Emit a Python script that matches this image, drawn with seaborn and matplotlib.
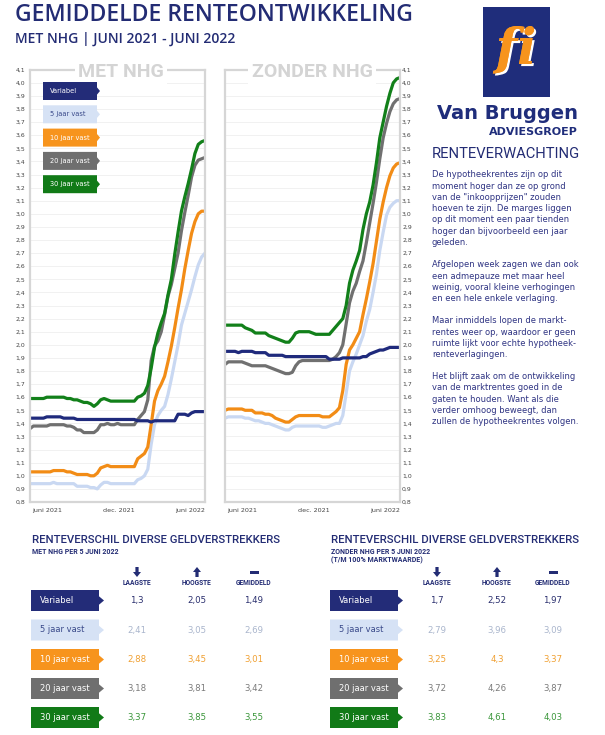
import numpy as np
import pandas as pd
import matplotlib
matplotlib.use('Agg')
import matplotlib.pyplot as plt
import matplotlib.patheffects as pe
import seaborn as sns
from matplotlib.patches import Polygon, Rectangle
from matplotlib.ticker import FuncFormatter, FixedLocator

# ---------------- DATA ----------------
series = ['Variabel', '5 jaar vast', '10 jaar vast', '20 jaar vast', '30 jaar vast']
weeks = list(range(53))  # weekly points, juni 2021 - juni 2022

met_variabel = [1.44, 1.44, 1.44, 1.44, 1.44, 1.45, 1.45, 1.45, 1.45, 1.45, 1.44, 1.44, 1.44, 1.44,
                1.43, 1.43, 1.43, 1.43, 1.43, 1.43, 1.43, 1.43, 1.43, 1.43, 1.43, 1.43, 1.43, 1.43,
                1.43, 1.43, 1.43, 1.43, 1.42, 1.42, 1.42, 1.42, 1.41, 1.42, 1.42, 1.42, 1.42, 1.42,
                1.42, 1.42, 1.47, 1.47, 1.47, 1.46, 1.48, 1.49, 1.49, 1.49, 1.49]
met_5 = [0.94, 0.94, 0.94, 0.94, 0.94, 0.94, 0.94, 0.95, 0.94, 0.94, 0.94, 0.94, 0.94, 0.94,
         0.92, 0.92, 0.92, 0.92, 0.91, 0.91, 0.90, 0.93, 0.95, 0.95, 0.94, 0.94, 0.94, 0.94,
         0.94, 0.94, 0.94, 0.94, 0.97, 0.98, 1.00, 1.05, 1.24, 1.39, 1.46, 1.50, 1.53, 1.62,
         1.74, 1.87, 2.00, 2.15, 2.24, 2.33, 2.42, 2.52, 2.61, 2.67, 2.70]
met_10 = [1.03, 1.03, 1.03, 1.03, 1.03, 1.03, 1.03, 1.04, 1.04, 1.04, 1.04, 1.03, 1.03, 1.02,
          1.01, 1.01, 1.01, 1.01, 1.00, 1.00, 1.02, 1.06, 1.07, 1.08, 1.07, 1.07, 1.07, 1.07,
          1.07, 1.07, 1.07, 1.07, 1.13, 1.15, 1.17, 1.22, 1.39, 1.57, 1.65, 1.70, 1.76, 1.87,
          1.99, 2.13, 2.28, 2.42, 2.58, 2.72, 2.85, 2.94, 3.00, 3.02, 3.02]
met_20 = [1.36, 1.38, 1.38, 1.38, 1.38, 1.38, 1.39, 1.39, 1.39, 1.39, 1.39, 1.38, 1.38, 1.37,
          1.35, 1.35, 1.33, 1.33, 1.33, 1.33, 1.35, 1.39, 1.39, 1.40, 1.39, 1.39, 1.40, 1.39,
          1.39, 1.39, 1.39, 1.39, 1.43, 1.46, 1.49, 1.58, 1.88, 1.99, 2.03, 2.10, 2.23, 2.37,
          2.46, 2.58, 2.70, 2.87, 3.01, 3.14, 3.28, 3.37, 3.41, 3.42, 3.43]
met_30 = [1.59, 1.59, 1.59, 1.59, 1.59, 1.60, 1.60, 1.60, 1.60, 1.60, 1.60, 1.59, 1.59, 1.58,
          1.58, 1.57, 1.56, 1.56, 1.55, 1.53, 1.55, 1.58, 1.59, 1.58, 1.57, 1.57, 1.57, 1.57,
          1.57, 1.57, 1.57, 1.57, 1.60, 1.61, 1.63, 1.69, 1.82, 1.98, 2.09, 2.17, 2.24, 2.38,
          2.50, 2.69, 2.86, 3.02, 3.13, 3.23, 3.34, 3.46, 3.53, 3.55, 3.56]

zonder_variabel = [1.95, 1.95, 1.95, 1.95, 1.94, 1.95, 1.95, 1.95, 1.95, 1.94, 1.94, 1.94, 1.94,
                   1.92, 1.92, 1.92, 1.92, 1.92, 1.91, 1.91, 1.91, 1.91, 1.91, 1.91, 1.91, 1.91,
                   1.91, 1.91, 1.91, 1.91, 1.91, 1.89, 1.89, 1.89, 1.89, 1.90, 1.90, 1.90, 1.90,
                   1.90, 1.90, 1.91, 1.91, 1.93, 1.94, 1.95, 1.96, 1.96, 1.97, 1.98, 1.98, 1.98, 1.98]
zonder_5 = [1.44, 1.45, 1.45, 1.45, 1.45, 1.45, 1.44, 1.44, 1.43, 1.42, 1.42, 1.41, 1.40, 1.40,
            1.39, 1.38, 1.37, 1.36, 1.35, 1.35, 1.37, 1.38, 1.38, 1.38, 1.38, 1.38, 1.38, 1.38,
            1.38, 1.37, 1.37, 1.38, 1.39, 1.40, 1.40, 1.46, 1.63, 1.80, 1.87, 1.93, 2.00, 2.07,
            2.18, 2.27, 2.40, 2.54, 2.72, 2.86, 2.99, 3.05, 3.08, 3.10, 3.10]
zonder_10 = [1.50, 1.51, 1.51, 1.51, 1.51, 1.51, 1.50, 1.50, 1.50, 1.48, 1.48, 1.48, 1.47, 1.47,
             1.46, 1.44, 1.43, 1.42, 1.41, 1.41, 1.43, 1.45, 1.46, 1.46, 1.46, 1.46, 1.46, 1.46,
             1.46, 1.45, 1.45, 1.45, 1.47, 1.49, 1.52, 1.65, 1.85, 1.96, 2.00, 2.05, 2.10, 2.23,
             2.35, 2.48, 2.62, 2.79, 2.96, 3.09, 3.20, 3.29, 3.35, 3.38, 3.39]
zonder_20 = [1.85, 1.87, 1.87, 1.87, 1.87, 1.87, 1.86, 1.85, 1.84, 1.84, 1.84, 1.84, 1.84, 1.83,
             1.82, 1.81, 1.80, 1.79, 1.78, 1.78, 1.79, 1.84, 1.87, 1.88, 1.88, 1.88, 1.88, 1.88,
             1.88, 1.88, 1.88, 1.88, 1.89, 1.91, 1.94, 2.00, 2.16, 2.32, 2.41, 2.47, 2.56, 2.64,
             2.78, 2.93, 3.08, 3.24, 3.42, 3.58, 3.69, 3.78, 3.84, 3.87, 3.88]
zonder_30 = [2.15, 2.15, 2.15, 2.15, 2.15, 2.15, 2.13, 2.12, 2.11, 2.09, 2.09, 2.09, 2.09, 2.07,
             2.06, 2.05, 2.04, 2.03, 2.02, 2.02, 2.05, 2.09, 2.10, 2.10, 2.10, 2.10, 2.09, 2.08,
             2.08, 2.08, 2.08, 2.08, 2.11, 2.14, 2.17, 2.20, 2.30, 2.47, 2.57, 2.64, 2.72, 2.88,
             3.00, 3.09, 3.22, 3.39, 3.58, 3.70, 3.82, 3.92, 4.00, 4.03, 4.04]

xtick_labels = ['juni 2021', 'dec. 2021', 'juni 2022']
xtick_weeks = [5, 26.3, 47.5]

# table: renteverschil diverse geldverstrekkers (per 5 juni 2022)
met_laagste = [1.3, 2.41, 2.88, 3.18, 3.37]
met_hoogste = [2.05, 3.05, 3.45, 3.81, 3.85]
met_gemiddeld = [1.49, 2.69, 3.01, 3.42, 3.55]
zonder_laagste = [1.7, 2.79, 3.25, 3.72, 3.83]
zonder_hoogste = [2.52, 3.96, 4.3, 4.26, 4.61]
zonder_gemiddeld = [1.97, 3.09, 3.37, 3.87, 4.03]
col_headers = ['LAAGSTE', 'HOOGSTE', 'GEMIDDELD']

paragraphs = [
    ["De hypotheekrentes zijn op dit", "moment hoger dan ze op grond",
     "van de \"inkoopprijzen\" zouden", "hoeven te zijn. De marges liggen",
     "op dit moment een paar tienden", "hoger dan bijvoorbeeld een jaar", "geleden."],
    ["Afgelopen week zagen we dan ook", "een admepauze met maar heel",
     "weinig, vooral kleine verhogingen", "en een hele enkele verlaging."],
    ["Maar inmiddels lopen de markt-", "rentes weer op, waardoor er geen",
     "ruimte lijkt voor echte hypotheek-", "renteverlagingen."],
    ["Het blijft zaak om de ontwikkeling", "van de marktrentes goed in de",
     "gaten te houden. Want als die", "verder omhoog beweegt, dan",
     "zullen de hypotheekrentes volgen."],
]

# ---------------- STYLE ----------------
sns.set_theme(style='white')
plt.rcParams['font.family'] = ['DejaVu Sans']

NAVY = '#232c74'
line_colors = {'Variabel': '#1f2a7c', '5 jaar vast': '#c9d8f2', '10 jaar vast': '#f28c16',
               '20 jaar vast': '#707070', '30 jaar vast': '#12801a'}
tag_colors = {'Variabel': '#232c78', '5 jaar vast': '#d6e2f5', '10 jaar vast': '#f7941d',
              '20 jaar vast': '#6f6f6f', '30 jaar vast': '#117a17'}
tag_text = {'Variabel': 'white', '5 jaar vast': '#3a4a8a', '10 jaar vast': 'white',
            '20 jaar vast': 'white', '30 jaar vast': 'white'}
value_colors = {'Variabel': '#2a2f6e', '5 jaar vast': '#a9b5cc', '10 jaar vast': '#f0a032',
                '20 jaar vast': '#7a7a7a', '30 jaar vast': '#3a963a'}
draw_order = ['5 jaar vast', '10 jaar vast', '20 jaar vast', '30 jaar vast', 'Variabel']

W, H = 605, 735
fig = plt.figure(figsize=(W / 100, H / 100), dpi=100)
fig.patch.set_facecolor('white')


def fx(x):
    return x / W


def fy(y):
    return 1 - y / H


def draw_chart(ax, vals, right):
    df = pd.DataFrame({
        'week': weeks * len(series),
        'rente': [v for s in vals for v in s],
        'serie': [name for name in series for _ in weeks],
    })
    sns.lineplot(data=df, x='week', y='rente', hue='serie', hue_order=draw_order,
                 palette=line_colors, linewidth=2.3, legend=False, ax=ax, estimator=None)
    ax.set_xlim(0, 52)
    ax.set_ylim(0.8, 4.1)
    ax.yaxis.set_major_locator(FixedLocator(np.round(np.arange(0.8, 4.15, 0.1), 1)))
    ax.yaxis.set_major_formatter(FuncFormatter(lambda v, p: f"{v:.1f}".replace('.', ',')))
    ax.set_xticks(xtick_weeks)
    ax.set_xticklabels(xtick_labels)
    ax.tick_params(axis='x', length=0, labelsize=4.6, colors='#444444', pad=4)
    ax.tick_params(axis='y', length=0, labelsize=4.4, colors='#444444', pad=3.5)
    ax.grid(axis='y', color='#efefef', linewidth=0.6)
    ax.grid(axis='x', visible=False)
    for s in ax.spines.values():
        s.set_visible(True)
        s.set_color('#d6d6d6')
        s.set_linewidth(1.6)
    ax.set_xlabel('')
    ax.set_ylabel('')
    if right:
        ax.yaxis.tick_right()
        ax.tick_params(axis='y', pad=1.5)


ax1 = fig.add_axes([fx(30), fy(502), 175 / W, (502 - 69.7) / H])
draw_chart(ax1, [met_variabel, met_5, met_10, met_20, met_30], right=False)
ax2 = fig.add_axes([fx(225), fy(502), 175 / W, (502 - 69.7) / H])
draw_chart(ax2, [zonder_variabel, zonder_5, zonder_10, zonder_20, zonder_30], right=True)

HEAD = ['Roboto', 'DejaVu Sans']
WIDE = ['Open Sans', 'DejaVu Sans']
for txt, cx in [('MET NHG', 121), ('ZONDER NHG', 312)]:
    fig.text(fx(cx), fy(77), txt, ha='center', va='baseline', fontsize=14, fontweight='bold',
             color='#d4d4d4', family=HEAD,
             bbox=dict(facecolor='white', edgecolor='none', pad=2.5))


def tag(x0, top, w, h, tip, name, fs, tx):
    pts = [(x0, top), (x0 + w, top), (x0 + w, top + h * 0.3), (x0 + w + tip, top + h / 2),
           (x0 + w, top + h * 0.7), (x0 + w, top + h), (x0, top + h)]
    fig.add_artist(Polygon([(fx(a), fy(b)) for a, b in pts], closed=True,
                           facecolor=tag_colors[name], edgecolor='none',
                           transform=fig.transFigure, zorder=5))
    fig.text(fx(tx), fy(top + h / 2), name, ha='left', va='center', fontsize=fs,
             color=tag_text[name], zorder=6)


# legend tags inside left chart
for i, name in enumerate(series):
    tag(43, 82 + i * 23.3, 54, 18, 3, name, 4.8, 50)

# ---------------- HEADER ----------------
fig.text(fx(15), fy(21), 'GEMIDDELDE RENTEONTWIKKELING', ha='left', va='baseline',
         fontsize=16.6, fontweight='semibold', color=NAVY, family=WIDE)
fig.text(fx(15), fy(43), 'MET NHG | JUNI 2021 - JUNI 2022', ha='left', va='baseline',
         fontsize=10, fontweight='semibold', color=NAVY, family=WIDE)

# logo
fig.add_artist(Rectangle((fx(483), fy(97)), fx(550) - fx(483), fy(7) - fy(97),
                         facecolor='#1f2d7b', edgecolor='none', transform=fig.transFigure))
fig.text(fx(516), fy(64), 'fi', ha='center', va='baseline', fontsize=36, fontweight='bold',
         fontstyle='italic', color='#f7941d', family=['DejaVu Serif'],
         path_effects=[pe.withSimplePatchShadow(offset=(1.5, -1.5), shadow_rgbFace='white',
                                                alpha=1.0), pe.Normal()])
fig.text(fx(578), fy(119), 'Van Bruggen', ha='right', va='baseline', fontsize=14,
         fontweight='bold', color='#1f2d7b')
fig.text(fx(578), fy(135), 'ADVIESGROEP', ha='right', va='baseline', fontsize=8,
         fontweight='bold', color='#1f2d7b')
fig.text(fx(432), fy(158), 'RENTEVERWACHTING', ha='left', va='baseline', fontsize=10.6,
         color=NAVY, family=HEAD)

para_starts = [177.3, 267.3, 323.3, 379.0]
for start, lines in zip(para_starts, paragraphs):
    for j, line in enumerate(lines):
        fig.text(fx(432), fy(start + j * 11.3), line, ha='left', va='baseline', fontsize=6,
                 color='#2f3483')

# ---------------- TABLES ----------------
def fmt(v):
    return f"{v:g}".replace('.', ',')


def arrow_icon(cx, kind):
    if kind == 'down':
        pts = [(cx - 1.6, 567), (cx + 1.6, 567), (cx + 1.6, 572), (cx + 4, 572), (cx, 577),
               (cx - 4, 572), (cx - 1.6, 572)]
    elif kind == 'up':
        pts = [(cx - 1.6, 577), (cx + 1.6, 577), (cx + 1.6, 572), (cx + 4, 572), (cx, 567),
               (cx - 4, 572), (cx - 1.6, 572)]
    else:
        pts = [(cx - 4.5, 570.5), (cx + 4.5, 570.5), (cx + 4.5, 573.5), (cx - 4.5, 573.5)]
    fig.add_artist(Polygon([(fx(a), fy(b)) for a, b in pts], closed=True, facecolor=NAVY,
                           edgecolor='none', transform=fig.transFigure))


tables = [
    (32, ['MET NHG PER 5 JUNI 2022'], [137, 197, 254],
     [met_laagste, met_hoogste, met_gemiddeld]),
    (331, ['ZONDER NHG PER 5 JUNI 2022', '(T/M 100% MARKTWAARDE)'], [437, 497, 553],
     [zonder_laagste, zonder_hoogste, zonder_gemiddeld]),
]
row_tops = [590, 619.5, 649, 678, 707]
for x0, subs, cols, cvals in tables:
    fig.text(fx(x0), fy(543.3), 'RENTEVERSCHIL DIVERSE GELDVERSTREKKERS', ha='left',
             va='baseline', fontsize=8.2, fontweight='medium', color=NAVY, family=HEAD)
    for k, sub in enumerate(subs):
        fig.text(fx(x0), fy(554 + k * 8), sub, ha='left', va='baseline', fontsize=5,
                 fontweight='bold', color=NAVY, family=HEAD)
    for cx, hdr, kind in zip(cols, col_headers, ['down', 'up', 'bar']):
        arrow_icon(cx, kind)
        fig.text(fx(cx), fy(585), hdr, ha='center', va='baseline', fontsize=4.8,
                 fontweight='bold', color=NAVY, family=HEAD)
    for i, name in enumerate(series):
        tag(x0 - 1, row_tops[i], 68, 21, 5, name, 6, x0 + 8)
        for cx, arr in zip(cols, cvals):
            fig.text(fx(cx), fy(row_tops[i] + 10.5), fmt(arr[i]), ha='center', va='center',
                     fontsize=6.2, color=value_colors[name])

fig.savefig('out.png', dpi=100, facecolor='white')
